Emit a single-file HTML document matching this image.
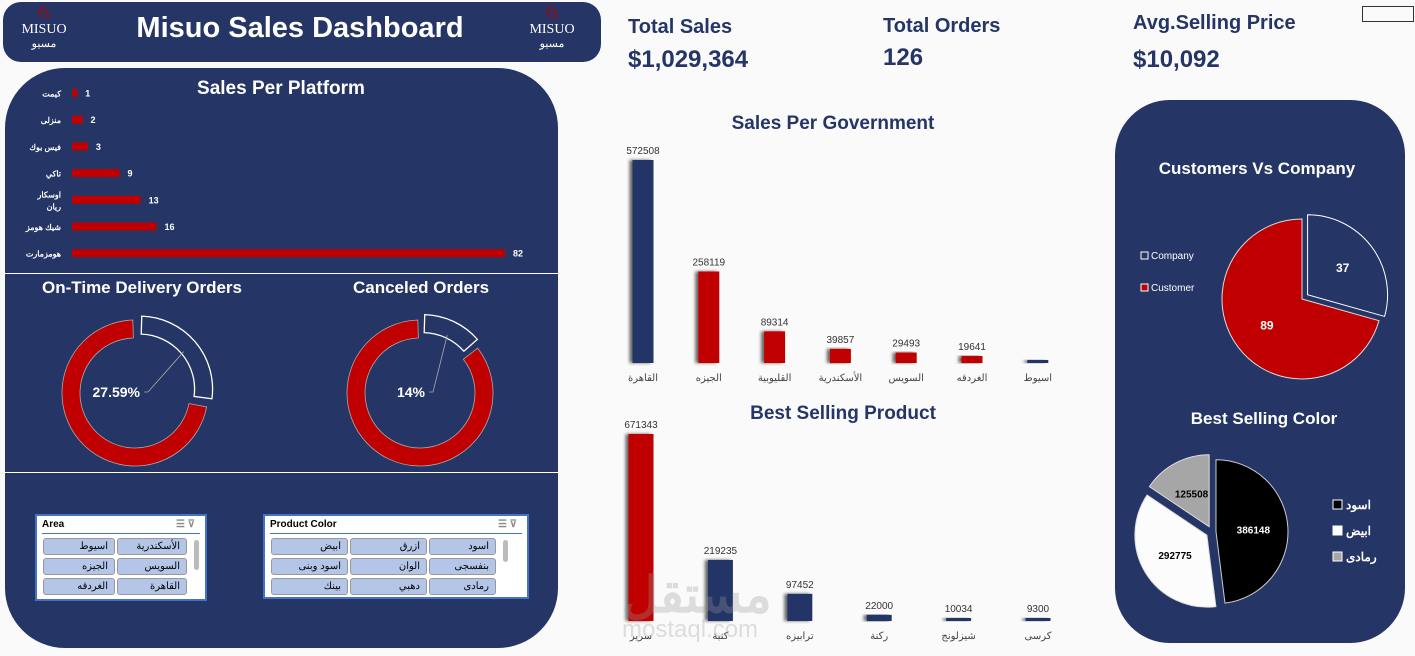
<!DOCTYPE html>
<html><head><meta charset="utf-8">
<style>
body{margin:0;width:1415px;height:656px;background:#fafafa;overflow:hidden;font-family:"Liberation Sans","Noto Sans CJK SC",sans-serif;position:relative}
.abs{position:absolute}
.kpi-t{font-size:20px;color:#243566;font-weight:bold}
.kpi-v{font-size:24px;font-weight:bold;color:#243566}
.slicer{position:absolute;background:#fff;border:2px solid #4472c4;box-sizing:border-box}
.slicer .hd{font-size:10px;font-weight:bold;padding:3px 5px;border-bottom:1px solid #4472c4;margin:0 5px;padding-left:0}
.btn{position:absolute;height:17px;background:#b4c6e7;border:1px solid #999;border-radius:3px;box-sizing:border-box;font-size:10px;text-align:right;padding-right:6px;line-height:15px;font-family:"Liberation Sans","Noto Sans CJK SC",sans-serif}
</style></head><body>
<div class="abs" style="left:3px;top:2px;width:598px;height:60px;background:#243566;border-radius:18px"></div>
<div class="abs" style="left:110px;top:12px;width:380px;text-align:center;color:#fff;font-size:29px;font-weight:bold">Misuo Sales Dashboard</div>
<div class="abs" style="left:14px;top:8px;width:60px;text-align:center;color:#fff;font-family:'Liberation Serif',serif;font-size:14px;line-height:14px"><span style="color:#b00000;font-size:16px">ઉ</span><br>MISUO<br><span style="font-size:11px">مسيو</span></div>
<div class="abs" style="left:522px;top:8px;width:60px;text-align:center;color:#fff;font-family:'Liberation Serif',serif;font-size:14px;line-height:14px"><span style="color:#b00000;font-size:16px">ઉ</span><br>MISUO<br><span style="font-size:11px">مسيو</span></div>

<div class="abs kpi-t" style="left:628px;top:16px">Total Sales</div>
<div class="abs kpi-v" style="left:628px;top:46px">$1,029,364</div>
<div class="abs kpi-t" style="left:883px;top:15px">Total Orders</div>
<div class="abs kpi-v" style="left:883px;top:44px">126</div>
<div class="abs kpi-t" style="left:1133px;top:12px">Avg.Selling Price</div>
<div class="abs kpi-v" style="left:1133px;top:46px">$10,092</div>
<div class="abs" style="left:1362px;top:6px;width:50px;height:14px;border:1px solid #333"></div>

<div class="abs" style="left:5px;top:68px;width:553px;height:580px;background:#243566;border-radius:60px"></div>
<div class="abs" style="left:5px;top:273px;width:553px;height:1px;background:#fff"></div>
<div class="abs" style="left:5px;top:472px;width:553px;height:1px;background:#fff"></div>
<div class="abs" style="left:1115px;top:100px;width:290px;height:543px;background:#243566;border-radius:55px"></div>

<svg class="abs" style="left:0;top:0" width="1415" height="656" id="svg">
<defs><filter id="sh" x="-50%" y="-10%" width="200%" height="120%"><feDropShadow dx="-3" dy="0" stdDeviation="1.5" flood-color="#000" flood-opacity="0.6"/></filter></defs>
<g id="wm" opacity="0.3" fill="#999"><text x="622" y="612" font-size="50" font-weight="bold" font-family="'Liberation Sans','Noto Sans CJK SC',sans-serif">مستقل</text><text x="622" y="637" font-size="24" font-family="'Liberation Sans',sans-serif">mostaql.com</text></g>
</svg>

<div class="slicer" style="left:35px;top:514px;width:172px;height:87px">
<div class="hd">Area <span style="float:right;color:#888">☰ ⊽</span></div>
<div class="btn" style="left:80px;top:22px;width:70px">الأسكندرية</div>
<div class="btn" style="left:6px;top:22px;width:72px">اسيوط</div>
<div class="btn" style="left:80px;top:42px;width:70px">السويس</div>
<div class="btn" style="left:6px;top:42px;width:72px">الجيزه</div>
<div class="btn" style="left:80px;top:62px;width:70px">القاهرة</div>
<div class="btn" style="left:6px;top:62px;width:72px">الغردقه</div>
<div class="abs" style="left:157px;top:24px;width:5px;height:30px;background:#bbb;border-radius:3px"></div>
</div>
<div class="slicer" style="left:263px;top:514px;width:266px;height:85px">
<div class="hd">Product Color <span style="float:right;color:#888">☰ ⊽</span></div>
<div class="btn" style="left:164px;top:22px;width:67px">اسود</div>
<div class="btn" style="left:85px;top:22px;width:77px">ازرق</div>
<div class="btn" style="left:6px;top:22px;width:77px">ابيض</div>
<div class="btn" style="left:164px;top:42px;width:67px">بنفسجى</div>
<div class="btn" style="left:85px;top:42px;width:77px">الوان</div>
<div class="btn" style="left:6px;top:42px;width:77px">اسود وبنى</div>
<div class="btn" style="left:164px;top:62px;width:67px">رمادى</div>
<div class="btn" style="left:85px;top:62px;width:77px">دهبي</div>
<div class="btn" style="left:6px;top:62px;width:77px">بينك</div>
<div class="abs" style="left:238px;top:24px;width:5px;height:22px;background:#bbb;border-radius:3px"></div>
</div>

<script>
const platformNames=["كيمت","منزلى","فيس بوك","تاكي","اوسكار|ريان","شيك هومز","هومزمارت"];
const platformValues=[1,2,3,9,13,16,82];
const govNames=["القاهرة","الجيزه","القليوبية","الأسكندرية","السويس","الغردقه","اسيوط"];
const govValues=[572508,258119,89314,39857,29493,19641,8000];
const govShowLabel=[true,true,true,true,true,true,false];
const productNames=["سرير","كنبة","ترابيزه","ركنة","شيزلونج","كرسى"];
const productValues=[671343,219235,97452,22000,10034,9300];
const custNames=["Company","Customer"];
const custValues=[37,89];
const colorNames=["اسود","ابيض","رمادى"];
const colorValues=[386148,292775,125508];
const onTimePct=[27.59];
const canceledPct=[14];

const svg=document.getElementById('svg');
const NS='http://www.w3.org/2000/svg';
function el(t,a,txt){const e=document.createElementNS(NS,t);for(const k in a)e.setAttribute(k,a[k]);if(txt!==undefined)e.textContent=txt;svg.appendChild(e);return e;}
const F="'Liberation Sans','Noto Sans CJK SC',sans-serif";

let t;
t=el('text',{x:281,y:94,fill:'#fff','font-size':19,'font-weight':'bold','text-anchor':'middle','font-family':F},'Sales Per Platform');

t=el('text',{x:142,y:293,fill:'#fff','font-size':17,'font-weight':'bold','text-anchor':'middle','font-family':F},'On-Time Delivery Orders');

t=el('text',{x:421,y:293,fill:'#fff','font-size':17,'font-weight':'bold','text-anchor':'middle','font-family':F},'Canceled Orders');

t=el('text',{x:833,y:129,fill:'#243566','font-size':19,'font-weight':'bold','text-anchor':'middle','font-family':F},'Sales Per Government');

t=el('text',{x:843,y:419,fill:'#243566','font-size':19,'font-weight':'bold','text-anchor':'middle','font-family':F},'Best Selling Product');

t=el('text',{x:1257,y:174,fill:'#fff','font-size':17,'font-weight':'bold','text-anchor':'middle','font-family':F},'Customers Vs Company');

t=el('text',{x:1264,y:424,fill:'#fff','font-size':17,'font-weight':'bold','text-anchor':'middle','font-family':F},'Best Selling Color');


const pX=v=>72+v*(433/82);
const pRowY=i=>93+i*26.7;
platformValues.forEach((v,i)=>{
  const y=pRowY(i);
  const r=el('rect',{x:72,y:y-4,width:pX(v)-72,height:8,fill:'#c00000'});
  
  const l=el('text',{x:pX(v)+8,y:y+3.5,fill:'#fff','font-size':9,'font-weight':'bold','font-family':F},v);
  
  const parts=platformNames[i].split('|');
  parts.forEach((s,k)=>{
    const n=el('text',{x:61,y:y+3.5+(k-(parts.length-1)/2)*12,fill:'#fff','font-size':8,'font-weight':'bold','text-anchor':'end','font-family':F},s);
    
  });
});

function arc(cx,cy,r0,r1,a0,a1){
  const p=(r,a)=>[cx+r*Math.sin(a),cy-r*Math.cos(a)];
  const lg=(a1-a0)>Math.PI?1:0;
  const [x1,y1]=p(r1,a0),[x2,y2]=p(r1,a1),[x3,y3]=p(r0,a1),[x4,y4]=p(r0,a0);
  if(r0===0) return `M${cx},${cy}L${x1},${y1}A${r1},${r1} 0 ${lg} 1 ${x2},${y2}Z`;
  return `M${x1},${y1}A${r1},${r1} 0 ${lg} 1 ${x2},${y2}L${x3},${y3}A${r0},${r0} 0 ${lg} 0 ${x4},${y4}Z`;
}
function donut(cx,cy,pct,name,label){
  const a=pct/100*2*Math.PI, g=0.03, ex=6;
  const mid=a/2, dx=ex*Math.sin(mid), dy=-ex*Math.cos(mid);
  let p=el('path',{d:arc(cx+dx,cy+dy,55,73,g,a-g),fill:'#243566',stroke:'#fff','stroke-width':1.3});
  
  p=el('path',{d:arc(cx,cy,55,73,a+g,2*Math.PI-g),fill:'#c00000',stroke:'#aaa','stroke-width':0.8});
  
  const lx=cx+64*Math.sin(mid), ly=cy-64*Math.cos(mid);
  p=el('polyline',{points:`${lx},${ly} ${cx+13},${cy-1} ${cx+9},${cy-1}`,fill:'none',stroke:'#aaa','stroke-width':0.8});
  
  const tx=el('text',{x:cx+5,y:cy+4,fill:'#fff','font-size':14,'font-weight':'bold','text-anchor':'end','font-family':F},label);
  
}
donut(135,393,onTimePct[0],'ontime',onTimePct[0]+'%');
donut(420,393,canceledPct[0],'canceled',canceledPct[0]+'%');

function columns(names,vals,show,x0,step,w,base,hmax,colors,tag){
  const maxv=Math.max(...vals);
  const yS=v=>base-Math.max(3,v/maxv*hmax);
  vals.forEach((v,i)=>{
    const cx=x0+i*step, y=yS(v);
    const r=el('rect',{x:cx-w/2,y:y,width:w,height:base-y,fill:colors[i],filter:'url(#sh)'});
    
    if(show[i]){const l=el('text',{x:cx,y:y-6,fill:'#333','font-size':10,'text-anchor':'middle','font-family':F},v);
    }
    const n=el('text',{x:cx,y:base+18,fill:'#444','font-size':10,'text-anchor':'middle','font-family':F},names[i]);
    
  });
}
const N='#243566',R='#c00000';
columns(govNames,govValues,govShowLabel,643,65.8,21,363,203,[N,R,R,R,R,R,N],'gov');
columns(productNames,productValues,productValues.map(()=>true),641,79.4,25,621,187,[R,N,N,N,N,N],'product');
svg.appendChild(document.getElementById('wm'));

function pie(cx,cy,r,vals,fills,strokes,explode,labelColor,labelR,fs,tag){
  const tot=vals.reduce((a,b)=>a+b,0);let a=0;
  vals.forEach((v,i)=>{
    const s=v/tot*2*Math.PI, m=a+s/2, e=explode[i];
    const ox=cx+e*Math.sin(m), oy=cy-e*Math.cos(m);
    const p=el('path',{d:arc(ox,oy,0,r,a,a+s),fill:fills[i],stroke:strokes[i],'stroke-width':1});
    
    const l=el('text',{x:ox+labelR*r*Math.sin(m),y:oy-labelR*r*Math.cos(m)+4,fill:labelColor[i],'font-size':fs,'font-weight':'bold','text-anchor':'middle','font-family':F},v);
    
    a+=s;
  });
}
pie(1302,299,80,custValues,['#243566','#c00000'],['#fff','#ddd'],[7,0],['#fff','#fff'],0.55,12,'customer');
pie(1212,532,72,colorValues,['#000','#fcfcfc','#a6a6a6'],['#ccc','#ddd','#ddd'],[4,6,6],['#fff','#000','#000'],0.52,10,'color');

[[custNames[0],'#243566',256],[custNames[1],'#c00000',288]].forEach(([n,c,y])=>{
  const r=el('rect',{x:1141,y:y-4,width:7,height:7,fill:c,stroke:'#fff','stroke-width':1});
  
  const tx=el('text',{x:1151,y:y+3,fill:'#fff','font-size':10,'font-family':F},n);
  
});
const colorFills=['#000','#fff','#a6a6a6'];
colorNames.forEach((n,i)=>{
  const y=505+i*26;
  const r=el('rect',{x:1333,y:y-5,width:9,height:9,fill:colorFills[i],stroke:'#fff','stroke-width':1});
  
  const tx=el('text',{x:1346,y:y+4,fill:'#fff','font-size':12,'font-weight':'bold','font-family':F},n);
  
});
</script>
</body></html>
